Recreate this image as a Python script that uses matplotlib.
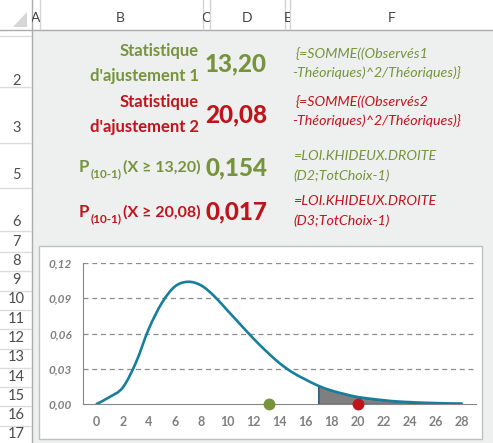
import matplotlib
matplotlib.use("Agg")
import matplotlib.pyplot as plt
from matplotlib.patches import Rectangle, Polygon, PathPatch
from matplotlib.lines import Line2D
from matplotlib.path import Path

# chi-square density (10-1 df)
x_vals = list(range(0, 29))
density = [0.0, 0.006, 0.014, 0.035, 0.064, 0.086, 0.100, 0.104, 0.101, 0.092,
           0.080, 0.068, 0.056, 0.045, 0.035, 0.027, 0.021, 0.0155, 0.0115, 0.0085,
           0.006, 0.0045, 0.0032, 0.0022, 0.0016, 0.0011, 0.0008, 0.0005, 0.0004]
tail_start = 17  # shaded rejection zone starts here

stat1 = 13.20
stat2 = 20.08
y_ticks = [0.00, 0.03, 0.06, 0.09, 0.12]
y_ticklabels = ["0,00", "0,03", "0,06", "0,09", "0,12"]
x_ticks = list(range(0, 29, 2))

col_letters = ["A", "B", "C", "D", "E", "F"]
row_numbers = ["2", "3", "5", "6", "7", "8", "9", "10", "11", "12", "13", "14", "15", "16", "17"]

W, H = 493, 443
GREEN = "#77933c"
RED = "#c0141c"
PANEL = "#eef0f0"
FONT = ["Lato", "DejaVu Sans"]

plt.rcParams["font.family"] = FONT

fig = plt.figure(figsize=(W / 100, H / 100), dpi=100)
fig.patch.set_facecolor(PANEL)


def fx(x):
    return x / W


def fy(y):
    return 1 - y / H


def rect(x0, y0, x1, y1, **kw):
    fig.add_artist(Rectangle((fx(x0), fy(y1)), fx(x1 - x0), (y1 - y0) / H,
                             transform=fig.transFigure, **kw))


def hline(x0, x1, y, color, lw=1.0):
    fig.add_artist(Line2D([fx(x0), fx(x1)], [fy(y), fy(y)], transform=fig.transFigure,
                          color=color, lw=lw, zorder=-2))


def vline(x, y0, y1, color, lw=1.0):
    fig.add_artist(Line2D([fx(x), fx(x)], [fy(y0), fy(y1)], transform=fig.transFigure,
                          color=color, lw=lw, zorder=-2))


# spreadsheet frame: column header + row header
rect(0, 0, W, 30, facecolor="white", edgecolor="none", zorder=-4)
rect(0, 0, 32, H, facecolor="white", edgecolor="none", zorder=-4)
hline(0, W, 29.5, "#ababab")
vline(31.5, 0, H, "#ababab")
fig.add_artist(Polygon([[fx(13), fy(27)], [fx(27), fy(27)], [fx(27), fy(12)]],
                       closed=True, transform=fig.transFigure, facecolor="#d6d6d6",
                       edgecolor="none", zorder=-2))
for xs in [39.5, 202.5, 209.5, 285, 289.5]:
    vline(xs, 0, 29, "#d4d4d4")
col_pos = [(35.5, 32, 39.5), (120, 39.5, 202.5), (206, 202.5, 209.5),
           (247, 209.5, 285), (287.5, 285, 289.5), (392, 289.5, W)]
for letter, (cx, c0, c1) in zip(col_letters, col_pos):
    t = fig.text(fx(cx), fy(18), letter, ha="center", va="center", fontsize=10,
                 color="#444444")
    t.set_clip_box(matplotlib.transforms.Bbox([[c0, 0], [c1, H]]))
    t.set_clip_on(True)

row_lines = [36, 87, 143, 188, 231, 252, 271.3, 290.6, 309.9, 329.2, 348.5,
             367.8, 387.1, 406.4, 425.7]
for yl in row_lines:
    hline(0, 31, yl, "#dcdcdc")
row_label_y = [81, 128, 175, 222, 242, 261, 280, 299, 319, 338, 357, 377, 396, 415, 434]
for lab, yl in zip(row_numbers, row_label_y):
    fig.text(fx(16.5), fy(yl), lab, ha="center", va="center", fontsize=10.5,
             color="#4d4d4d")

# cell contents
bold_lbl = dict(ha="right", va="baseline", fontsize=12, fontweight="bold")
fig.text(fx(199), fy(56), "Statistique", color=GREEN, **bold_lbl)
fig.text(fx(199), fy(81), "d'ajustement 1", color=GREEN, **bold_lbl)
fig.text(fx(199), fy(107), "Statistique", color=RED, **bold_lbl)
fig.text(fx(199), fy(132), "d'ajustement 2", color=RED, **bold_lbl)

val = dict(ha="right", va="baseline", fontsize=17.5, fontweight="black")
fig.text(fx(267), fy(71), "13,20", color=GREEN, **val)
fig.text(fx(267), fy(122), "20,08", color=RED, **val)
fig.text(fx(267), fy(175), "0,154", color=GREEN, **val)
fig.text(fx(267), fy(219), "0,017", color=RED, **val)

for base, color, s in [(172, GREEN, "13,20"), (217, RED, "20,08")]:
    fig.text(fx(79), fy(base), "P", ha="left", va="baseline", fontsize=12,
             fontweight="bold", color=color)
    fig.text(fx(91), fy(base + 5), "(10-1)", ha="left", va="baseline", fontsize=8.5,
             fontweight="bold", color=color)
    fig.text(fx(123), fy(base), "(X \u2265 " + s + ")", ha="left", va="baseline",
             fontsize=11.5, fontweight="bold", color=color)

form = dict(ha="left", va="baseline", fontsize=10.3, style="italic")
fig.text(fx(296), fy(58), "{=SOMME((Observés1", color=GREEN, **form)
fig.text(fx(292), fy(77), "-Théoriques)^2/Théoriques)}", color=GREEN, **form)
fig.text(fx(296), fy(106), "{=SOMME((Observés2", color=RED, **form)
fig.text(fx(292), fy(125), "-Théoriques)^2/Théoriques)}", color=RED, **form)
fig.text(fx(293), fy(160), "=LOI.KHIDEUX.DROITE", color=GREEN, **form)
fig.text(fx(293), fy(180), "(D2;TotChoix-1)", color=GREEN, **form)
fig.text(fx(293), fy(205), "=LOI.KHIDEUX.DROITE", color=RED, **form)
fig.text(fx(293), fy(225), "(D3;TotChoix-1)", color=RED, **form)

# chart box
rect(39, 246, 482, 439, facecolor="white", edgecolor="#bfbfbf", lw=1, zorder=-1)

ax = fig.add_axes([fx(83), fy(404), fx(476 - 83), (404 - 263) / H])
ax.set_facecolor("none")
ax.set_xlim(-1.05, 29.1)
ax.set_ylim(0, 0.12)

for yt in y_ticks[1:]:
    ax.axhline(yt, color="#8c8c8c", lw=0.9, ls=(0, (4, 3)), zorder=1)

ax.fill_between(x_vals[tail_start:], density[tail_start:], 0, facecolor="#7f7f7f",
                edgecolor="#1f4e79", lw=1.0, zorder=2)

# smoothed line like Excel: bezier segments through the points
pts = list(zip(x_vals, density))
verts = [pts[0]]
codes = [Path.MOVETO]
for i in range(len(pts) - 1):
    p0 = pts[max(i - 1, 0)]
    p1 = pts[i]
    p2 = pts[i + 1]
    p3 = pts[min(i + 2, len(pts) - 1)]
    c1 = (p1[0] + (p2[0] - p0[0]) / 6, p1[1] + (p2[1] - p0[1]) / 6)
    c2 = (p2[0] - (p3[0] - p1[0]) / 6, p2[1] - (p3[1] - p1[1]) / 6)
    verts += [c1, c2, p2]
    codes += [Path.CURVE4] * 3
ax.add_patch(PathPatch(Path(verts, codes), fill=False, edgecolor="#177f9b", lw=1.9,
                       capstyle="round", zorder=3))

ax.plot([stat1], [0], "o", color=GREEN, ms=7.5, zorder=4, clip_on=False)
ax.plot([stat2], [0], "o", color=RED, ms=7.5, zorder=4, clip_on=False)

for side in ["top", "right"]:
    ax.spines[side].set_visible(False)
ax.spines["left"].set_color("#868686")
ax.spines["bottom"].set_color("#868686")
ax.spines["left"].set_zorder(0)

ax.set_yticks(y_ticks)
ax.set_yticklabels(y_ticklabels, fontsize=8.5, fontweight="bold", style="italic",
                   color="#808080")
ax.set_xticks(x_ticks)
ax.set_xticklabels([str(v) for v in x_ticks], fontsize=9, fontweight="bold",
                   color="#808080")
ax.tick_params(axis="both", length=0)
ax.tick_params(axis="y", pad=8)
ax.tick_params(axis="x", pad=9)

fig.savefig("out.png", dpi=100, facecolor=PANEL)
